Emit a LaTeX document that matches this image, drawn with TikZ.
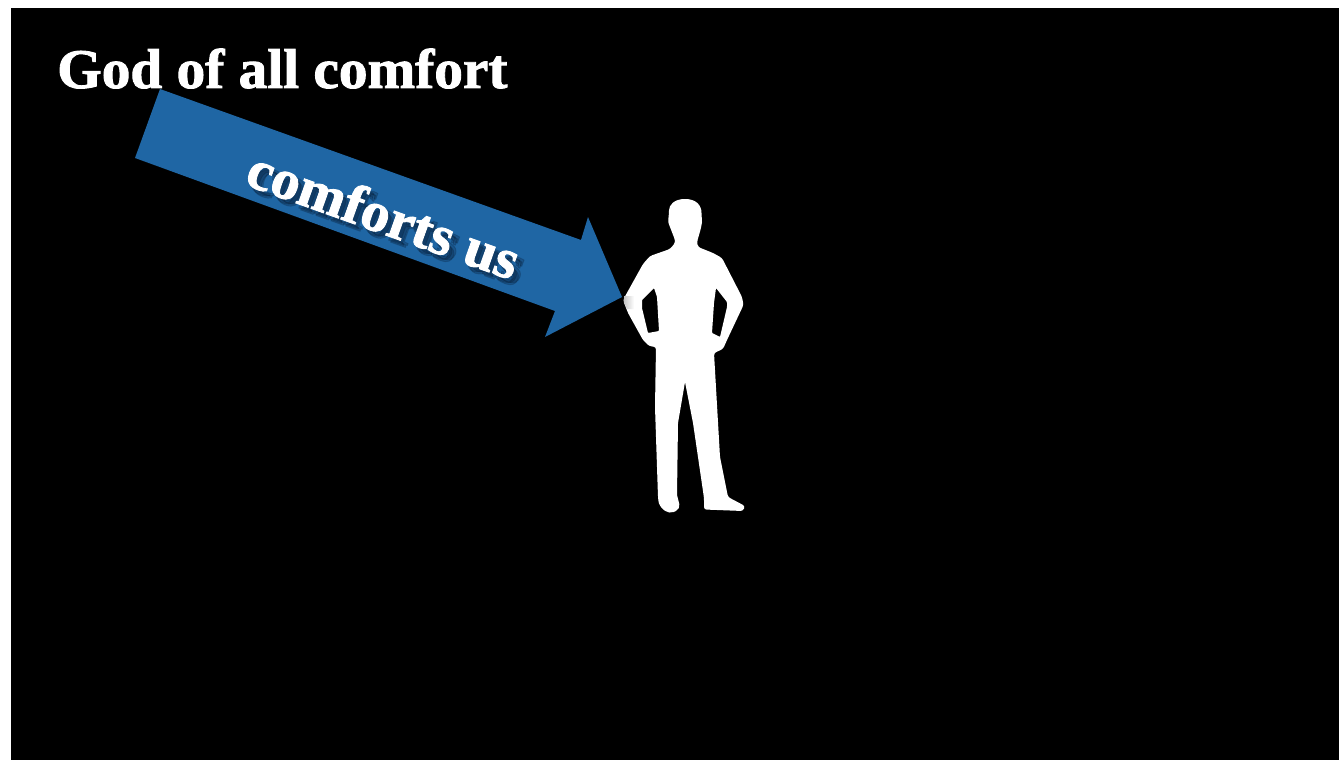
\documentclass[tikz,border=0pt]{standalone}
\usepackage{fontspec}
\setmainfont[BoldFeatures={FakeBold=1.6}]{Liberation Serif}
\definecolor{arrowblue}{HTML}{1F66A4}
\definecolor{shadowblue}{HTML}{06182E}
\tikzset{
  titletext/.style={text=white,font=\fontsize{56}{60}\selectfont\bfseries,anchor=base west,inner sep=0pt},
  arrowtext/.style={font=\fontsize{56}{60}\selectfont\bfseries,anchor=center,inner sep=0pt,rotate=-19.7},
  shadowcopy/.style={arrowtext,text=shadowblue,text opacity=0.22},
}
\newcommand{\wider}[1]{\scalebox{1.023}[1]{#1}}
\begin{document}
\begin{tikzpicture}[x=1pt,y=-1pt]
\useasboundingbox (0,0) rectangle (1339,760);
\fill[white] (0,0) rectangle (1339,760);
\fill[black] (11,8) rectangle (1339,760);
\node[titletext] (title) at (57,88) {\wider{God of all comfort}};
% arrow
\fill[arrowblue] (160,89) -- (581,240) -- (588,217) -- (622,297) -- (545,337) -- (555,311) -- (135,158) -- cycle;
% text shadow
\foreach \dx/\dy in {3/5,5/7,7/5}{
  \node[shadowcopy] at (384+\dx,214+\dy) {\wider{comforts us}};
}
\node[arrowtext,text=white] (label) at (384,214) {\wider{comforts us}};
% person
\fill[white,even odd rule]
 (685,199) .. controls (696,199) and (701.5,205) .. (701.5,213) -- (702,222)
 [rounded corners=2.5pt] -- (701,228) -- (697,242) -- (698,247)
 -- (713,253) -- (722,258) -- (742,297) -- (743.5,305) -- (727,340) -- (723,349) -- (714,353)
 -- (720,457) -- (728,497) -- (745,506) -- (743,511) -- (704,509.5) -- (704,498)
 [rounded corners=0.6pt] -- (693,423) -- (685,382) -- (678,423) -- (677,495)
 [rounded corners=5pt] -- (680.5,509) -- (669,514) -- (659,506)
 [rounded corners=2.5pt] -- (658,497) -- (655,407) -- (656,347) -- (649,346) -- (643,340) -- (628,313) -- (623,300)
 -- (643,264) -- (650,256) -- (670,249) -- (675,243) -- (675,240) -- (670,227) -- (668,222)
 -- (669,213) [sharp corners] .. controls (669,205) and (674,199) .. (685,199) -- cycle
 [rounded corners=0.8pt]
 (654,288) -- (642,300) -- (642,308) -- (648,333) -- (659,331) -- (657,297) -- cycle
 (716,288) -- (727,302) -- (727,307) -- (720,337) -- (712,333) -- (714,303) -- cycle;
% soft grey patch on the elbow
\shade[left color=white!78!black,right color=white]
 (624.2,296) -- (634,296) -- (634,309) -- (627,309) -- (624.2,303) -- cycle;
\end{tikzpicture}
\end{document}
